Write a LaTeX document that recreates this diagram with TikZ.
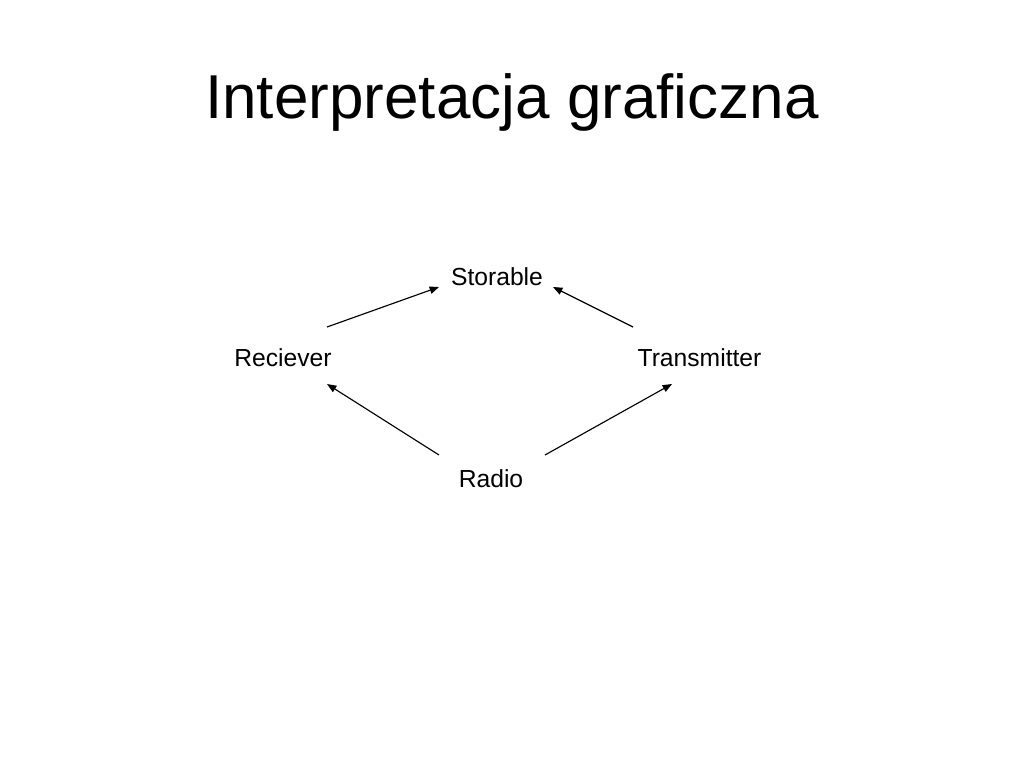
\documentclass[tikz,border=0pt]{standalone}
\usepackage{fontspec}
\setmainfont{Liberation Sans}
\usetikzlibrary{arrows.meta}
\tikzset{
	label/.style={font=\fontsize{18.5}{22}\selectfont, inner sep=0pt, anchor=base},
	arr/.style={line width=0.85pt, -{Triangle[length=7pt, width=5.5pt]}}
}

\begin{document}
\begin{tikzpicture}[x=0.75pt, y=-0.75pt]
		%%%%% START %%%%%
		
		\useasboundingbox[fill=white] (0, 0) rectangle (1024, 768);
		
		\node[inner sep=0pt, anchor=base, font=\fontsize{46.5}{55}\selectfont] (title) at (512, 118) {Interpretacja graficzna};
		
		\node[label] (sto) at (497, 285) {Storable};
		\node[label] (rec) at (283, 366) {Reciever};
		\node[label] (tra) at (699.5, 366) {Transmitter};
		\node[label] (rad) at (491, 487) {Radio};
		
		\coordinate (sto-l) at (439, 287);
		\coordinate (sto-r) at (553, 287);
		\coordinate (rec-up) at (327, 327);
		\coordinate (rec-dn) at (327, 384);
		\coordinate (tra-up) at (633, 327);
		\coordinate (tra-dn) at (672, 384);
		\coordinate (rad-l) at (439, 455);
		\coordinate (rad-r) at (545, 455);
		
		\draw[arr] (rec-up) -- (sto-l);
		\draw[arr] (tra-up) -- (sto-r);
		\draw[arr] (rad-l) -- (rec-dn);
		\draw[arr] (rad-r) -- (tra-dn);
		
		%%%%% END %%%%%
\end{tikzpicture}
\end{document}
